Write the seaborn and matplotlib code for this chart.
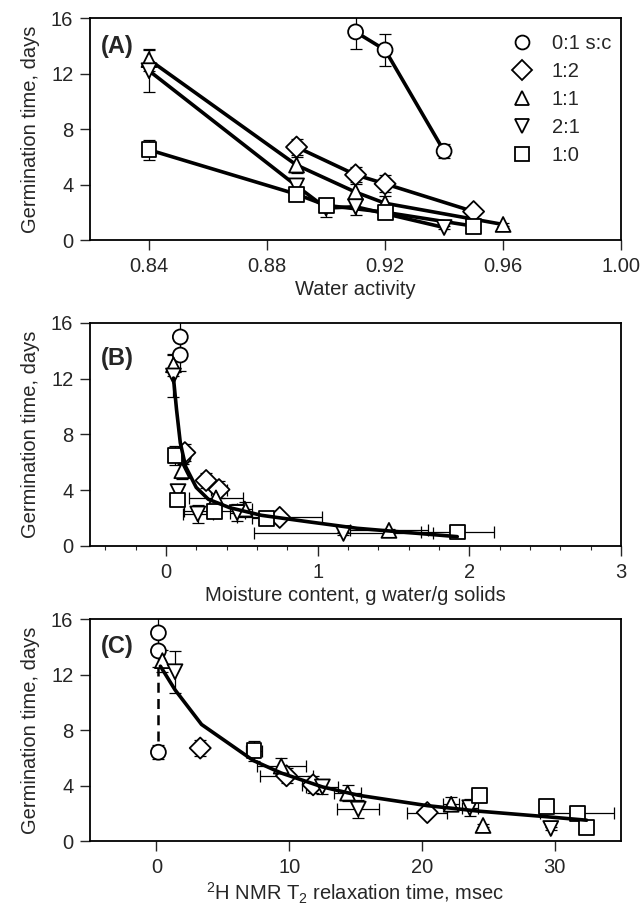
import numpy as np
import pandas as pd
import seaborn as sns
import matplotlib.pyplot as plt
from matplotlib.lines import Line2D
from matplotlib.ticker import MultipleLocator

#%% data

ratios = ['0:1 s:c', '1:2', '1:1', '2:1', '1:0']
marker_list = ['o', 'D', '^', 'v', 's']

# germination time, days (same points in all three panels)
days_01 = [15.0, 13.7, 6.4]
days_12 = [6.7, 4.7, 4.05, 2.05]
days_11 = [13.0, 5.4, 3.45, 2.65, 1.12]
days_21 = [12.2, 3.9, 2.3, 2.4, 0.9]
days_10 = [6.5, 3.3, 2.5, 2.0, 1.0]

days_err_01 = [1.2, 1.15, 0.5]
days_err_12 = [0.6, 0.55, 0.6, 0.2]
days_err_11 = [0.8, 0.6, 0.6, 0.5, 0.1]
days_err_21 = [1.5, 0.5, 0.65, 0.6, 0.1]
days_err_10 = [0.7, 0.45, 0.3, 0.2, 0.1]

# (A) water activity
aw_01 = [0.91, 0.92, 0.94]
aw_12 = [0.89, 0.91, 0.92, 0.95]
aw_11 = [0.84, 0.89, 0.91, 0.92, 0.96]
aw_21 = [0.84, 0.89, 0.90, 0.91, 0.94]
aw_10 = [0.84, 0.89, 0.90, 0.92, 0.95]

# (B) moisture content, g water/g solids
mc_01 = [0.095, 0.095, 0.115]
mc_12 = [0.125, 0.265, 0.35, 0.75]
mc_11 = [0.05, 0.105, 0.33, 0.52, 1.47]
mc_21 = [0.05, 0.08, 0.21, 0.47, 1.17]
mc_10 = [0.06, 0.075, 0.32, 0.665, 1.92]

mc_err_01 = [0, 0, 0]
mc_err_12 = [0, 0, 0.05, 0.28]
mc_err_11 = [0, 0, 0.18, 0.05, 0.26]
mc_err_21 = [0, 0, 0.1, 0.05, 0.59]
mc_err_10 = [0, 0, 0.2, 0.1, 0.24]

# (C) 2H NMR T2 relaxation time, msec
t2_01 = [0.15, 0.15, 0.15]
t2_12 = [3.3, 9.8, 11.8, 20.4]
t2_11 = [0.45, 9.4, 14.4, 22.2, 24.6]
t2_21 = [1.4, 12.5, 15.2, 23.6, 29.7]
t2_10 = [7.35, 24.3, 29.35, 31.7, 32.4]

t2_err_01 = [0, 0, 0]
t2_err_12 = [0, 2.0, 0.8, 1.5]
t2_err_11 = [0, 1.85, 1.0, 0.6, 0]
t2_err_21 = [0, 1.2, 1.6, 0.6, 0]
t2_err_10 = [0.6, 0.4, 0, 2.8, 0]

# fitted curves
curve_mc = [0.05, 0.07, 0.095, 0.13, 0.2, 0.28, 0.42, 0.63, 0.93, 1.26, 1.6, 1.92]
curve_mc_days = [12.05, 9.8, 7.4, 5.7, 4.2, 3.35, 2.75, 2.2, 1.75, 1.27, 0.96, 0.67]
curve_t2 = [0.3, 1.4, 3.4, 7.3, 9.4, 12.5, 15.2, 20.4, 24.3, 29.4, 32.4]
curve_t2_days = [12.6, 10.9, 8.4, 5.8, 4.9, 3.9, 3.3, 2.55, 2.15, 1.75, 1.5]

# dashed line joining the 0:1 points in (C)
dash_t2 = [0.15, 0.15]
dash_days = [12.6, 6.9]

#%% long table

def make_df():
    parts = []
    cols = zip(ratios,
               [days_01, days_12, days_11, days_21, days_10],
               [days_err_01, days_err_12, days_err_11, days_err_21, days_err_10],
               [aw_01, aw_12, aw_11, aw_21, aw_10],
               [mc_01, mc_12, mc_11, mc_21, mc_10],
               [mc_err_01, mc_err_12, mc_err_11, mc_err_21, mc_err_10],
               [t2_01, t2_12, t2_11, t2_21, t2_10],
               [t2_err_01, t2_err_12, t2_err_11, t2_err_21, t2_err_10])
    for r, d, de, a, m, me, t, te in cols:
        parts.append(pd.DataFrame({'ratio': r, 'days': d, 'days_err': de,
                                   'aw': a, 'mc': m, 'mc_err': me,
                                   't2': t, 't2_err': te}))
    return pd.concat(parts, ignore_index=True)


df = make_df()
marker_map = dict(zip(ratios, marker_list))

#%% drawing

sns.set_theme(style='ticks')
plt.rcParams['font.family'] = ['Liberation Sans', 'DejaVu Sans']
plt.rcParams['mathtext.default'] = 'regular'

FS = 14.5


def points(ax, x, xerr=None):
    ax.errorbar(df[x], df['days'], yerr=df['days_err'],
                xerr=None if xerr is None else df[xerr],
                fmt='none', ecolor='black', elinewidth=0.9,
                capsize=4, capthick=0.9, zorder=2)
    sns.scatterplot(data=df, x=x, y='days', style='ratio', markers=marker_map,
                    s=115, color='white', edgecolor='black', linewidth=1.3,
                    legend=False, ax=ax, zorder=3)


def frame(ax, xlabel, tag, tag_y):
    ax.set_ylim(0, 16)
    ax.set_yticks([0, 4, 8, 12, 16])
    ax.set_ylabel('Germination time, days', fontsize=FS, labelpad=8)
    ax.set_xlabel(xlabel, fontsize=FS, labelpad=3)
    ax.tick_params(direction='out', length=7, width=1, labelsize=FS, pad=5)
    for s in ax.spines.values():
        s.set_linewidth(1.3)
        s.set_color('black')
    ax.text(0.02, tag_y, tag, transform=ax.transAxes, fontsize=17,
            fontweight='bold', va='center', ha='left')


fig = plt.figure(figsize=(6.43, 9.05), dpi=100)
axA = fig.add_axes([0.14, 0.7348, 0.826, 0.2453])
axB = fig.add_axes([0.14, 0.3967, 0.826, 0.2464])
axC = fig.add_axes([0.14, 0.0707, 0.826, 0.2453])

# (A)
sns.lineplot(data=df, x='aw', y='days', units='ratio', estimator=None,
             color='black', lw=2.6, legend=False, ax=axA, zorder=1)
points(axA, 'aw')
axA.set_xlim(0.82, 1.0)
axA.set_xticks([0.84, 0.88, 0.92, 0.96, 1.00])
axA.set_xticklabels(['0.84', '0.88', '0.92', '0.96', '1.00'])
frame(axA, 'Water activity', '(A)', 0.87)
handles = [Line2D([], [], marker=m, ls='none', mfc='white', mec='black',
                  ms=10, mew=1.3) for m in marker_list]
axA.legend(handles, ratios, loc='upper left', bbox_to_anchor=(0.775, 0.965),
           frameon=False, fontsize=FS, handletextpad=0.9, labelspacing=0.45,
           handlelength=1.2, borderaxespad=0)

# (B)
points(axB, 'mc', 'mc_err')
sns.lineplot(x=curve_mc, y=curve_mc_days, color='black', lw=2.6,
             ax=axB, zorder=4)
axB.set_xlim(-0.5, 3)
axB.set_xticks([0, 1, 2, 3])
axB.xaxis.set_minor_locator(MultipleLocator(0.2))
axB.tick_params(which='minor', direction='out', length=3, width=0.8)
frame(axB, 'Moisture content, g water/g solids', '(B)', 0.84)

# (C)
points(axC, 't2', 't2_err')
axC.plot(dash_t2, dash_days, color='black', lw=1.8, ls=(0, (4, 2.5)), zorder=2)
sns.lineplot(x=curve_t2, y=curve_t2_days, color='black', lw=2.6,
             ax=axC, zorder=4)
axC.set_xlim(-5, 35)
axC.set_xticks([0, 10, 20, 30])
frame(axC, r'$^{2}$H NMR T$_{2}$ relaxation time, msec', '(C)', 0.877)

fig.savefig('out.png', dpi=100)
